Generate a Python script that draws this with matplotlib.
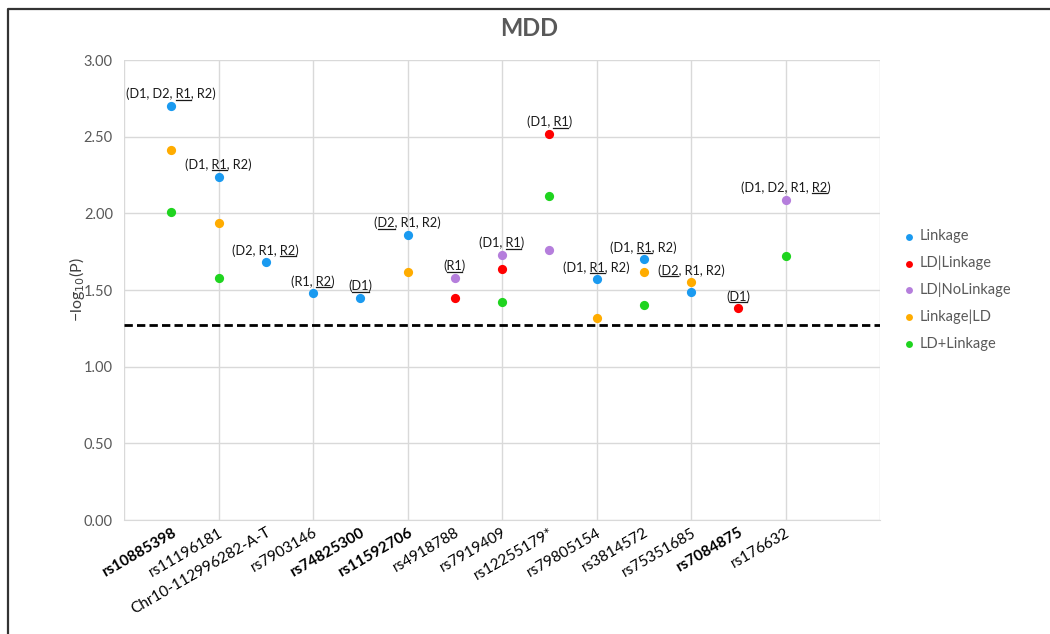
import re
import matplotlib
matplotlib.use('Agg')
import matplotlib.pyplot as plt
from matplotlib.lines import Line2D

plt.rcParams['font.family'] = ['Lato', 'DejaVu Sans']

snps = ['rs10885398', 'rs11196181', 'Chr10-112996282-A-T', 'rs7903146', 'rs74825300',
        'rs11592706', 'rs4918788', 'rs7919409', 'rs12255179*', 'rs79805154',
        'rs3814572', 'rs75351685', 'rs7084875', 'rs176632']
bold_snps = ['rs10885398', 'rs74825300', 'rs11592706', 'rs7084875']
pos = list(range(1, 15))

# -log10(P) per model, None where not significant
linkage = [2.70, 2.24, 1.68, 1.48, 1.45, 1.86, None, None, None, 1.57, 1.70, 1.49, None, None]
ld_linkage = [None, None, None, None, None, None, 1.45, 1.64, 2.52, None, None, None, 1.38, None]
ld_nolinkage = [None, None, None, None, None, None, 1.58, 1.73, 1.76, None, None, None, None, 2.09]
linkage_ld = [2.41, 1.94, None, None, None, 1.62, None, None, None, 1.32, 1.62, 1.55, None, None]
ld_plus_linkage = [2.01, 1.58, None, None, None, None, None, 1.42, 2.11, None, 1.40, None, None, 1.72]

series = [('Linkage', linkage, '#1A9AF0'),
          ('LD|Linkage', ld_linkage, '#FF0000'),
          ('LD|NoLinkage', ld_nolinkage, '#B57EDC'),
          ('Linkage|LD', linkage_ld, '#FFAC00'),
          ('LD+Linkage', ld_plus_linkage, '#1FD41F')]

# underscores mark the underlined part
notes = ['(D1, D2, _R1_, R2)', '(D1, _R1_, R2)', '(D2, R1, _R2_)', '(R1, _R2_)', '(_D1_)',
         '(_D2_, R1, R2)', '(_R1_)', '(D1, _R1_)', '(D1, _R1_)', '(D1, _R1_, R2)',
         '(D1, _R1_, R2)', '(_D2_, R1, R2)', '(_D1_)', '(D1, D2, R1, _R2_)']

threshold = 1.275

fig = plt.figure(figsize=(10.5, 6.34), dpi=100)
ax = fig.add_axes([124 / 1050, 1 - 520 / 634, 756 / 1050, 460 / 634])

for name, vals, col in series:
    xs = [p for p, v in zip(pos, vals) if v is not None]
    ys = [v for v in vals if v is not None]
    ax.scatter(xs, ys, s=44, color=col, label=name, zorder=3, linewidths=0)

ax.axhline(threshold, color='black', lw=2, ls=(0, (3, 1.5)), zorder=2)

ax.set_xlim(0, 16)
ax.set_ylim(0, 3)
ax.xaxis.remove_overlapping_locs = False
ax.set_xticks(range(0, 17, 2))
ax.set_xticklabels([])
ax.set_xticks(pos, minor=True)
ax.set_xticklabels(snps, minor=True, rotation=30, ha='right', rotation_mode='anchor',
                   fontsize=11, color='black')
for lab in ax.get_xticklabels(minor=True):
    if lab.get_text() in bold_snps:
        lab.set_fontweight('bold')
ax.set_yticks([0, 0.5, 1, 1.5, 2, 2.5, 3])
ax.set_yticklabels(['%.2f' % v for v in [0, 0.5, 1, 1.5, 2, 2.5, 3]], fontsize=10.5, color='#595959')
ax.tick_params(axis='both', which='both', length=0)
ax.tick_params(axis='y', pad=8)
ax.tick_params(axis='x', which='minor', pad=4)
ax.grid(True, which='major', color='#D9D9D9', lw=1)
ax.set_axisbelow(True)
for s in ['top', 'right', 'left']:
    ax.spines[s].set_visible(False)
ax.spines['bottom'].set_color('#D9D9D9')

ax.set_ylabel('−log$_{10}$(P)', fontsize=11.5, color='#404040', labelpad=-2)
fig.text(529 / 1050, 1 - 28 / 634, 'MDD', ha='center', va='center', fontsize=17,
         fontweight='bold', color='#595959')

ax.legend(loc='center left', bbox_to_anchor=(1.025, 0.5), frameon=False, fontsize=10.5,
          labelcolor='#595959', handlelength=0.6, handletextpad=0.4, labelspacing=0.85,
          markerscale=0.75, borderaxespad=0)

texts = []
for p, note in zip(pos, notes):
    top = max(v[p - 1] for _, v, _ in series if v[p - 1] is not None)
    t = ax.annotate(note.replace('_', ''), (p, top), xytext=(0, 4), textcoords='offset points',
                    ha='center', va='bottom', fontsize=9.2, color='#1A1A1A')
    texts.append((t, note))

fig.canvas.draw()
r = fig.canvas.get_renderer()
inv = fig.transFigure.inverted()
for t, note in texts:
    m = re.search(r'_(.+?)_', note)
    pre = note[:m.start()].replace('_', '')
    tok = m.group(1)
    fp = t.get_fontproperties()
    w_all = r.get_text_width_height_descent(pre + tok, fp, ismath=False)[0]
    w_tok = r.get_text_width_height_descent(tok, fp, ismath=False)[0]
    d = r.get_text_width_height_descent(t.get_text(), fp, ismath=False)[2]
    bb = t.get_window_extent(r)
    x0 = bb.x0 + w_all - w_tok
    x1 = bb.x0 + w_all
    yb = bb.y0 + d - 1.5
    (fx0, fy), (fx1, _) = inv.transform([(x0, yb), (x1, yb)])
    fig.add_artist(Line2D([fx0, fx1], [fy, fy], color='#1A1A1A', lw=0.9))

# frame of the pasted chart
fig.add_artist(Line2D([8 / 1050, 8 / 1050, 1], [0, 1 - 9 / 634, 1 - 9 / 634], color='#333333', lw=1.6))

fig.savefig('out.png', dpi=100)
